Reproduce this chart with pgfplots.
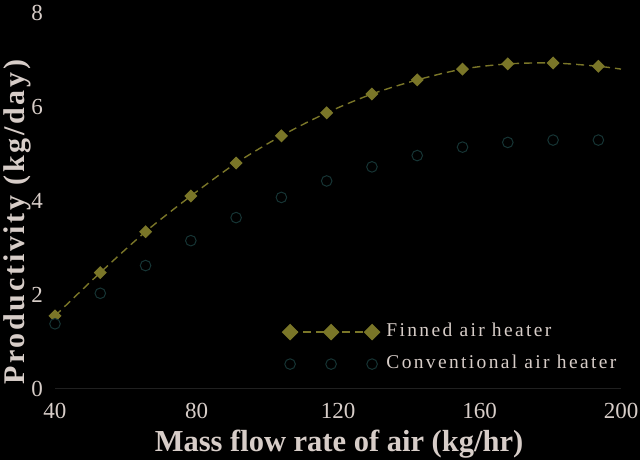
\documentclass[border=0pt]{standalone}
\usepackage{pgfplots}
\pgfplotsset{compat=1.18}
\usepackage{fontspec}
\setmainfont{Liberation Serif}
\newfontfamily\legfont{Liberation Serif}[LetterSpace=12]
\newfontfamily\ylabfont{Liberation Serif}[LetterSpace=9]
\definecolor{olivec}{RGB}{122,118,40}
\definecolor{txtc}{RGB}{215,205,200}
\definecolor{circc}{RGB}{22,52,52}
\definecolor{axc}{RGB}{32,32,32}
\pgfplotsset{
  leg3/.style={legend image code/.code={\draw[mark repeat=1,##1] plot coordinates {(0pt,0pt) (41pt,0pt) (82pt,0pt)};}},
  leg3big/.style={legend image code/.code={\draw[mark repeat=1,##1,mark size=5.2pt] plot coordinates {(0pt,0pt) (41pt,0pt) (82pt,0pt)};}},
}
\begin{document}
\begin{tikzpicture}
\path[use as bounding box, fill=black] (-55pt,-71.3pt) rectangle (585pt,388.7pt);
\clip (-55pt,-71.3pt) rectangle (585pt,388.7pt);
\begin{axis}[
  scale only axis,
  width=566pt, height=376pt,
  xmin=40, xmax=200, ymin=0, ymax=8,
  xtick={40,80,120,160,200},
  ytick={0,2,4,6,8},
  axis lines=left,
  axis line style={-},
  x axis line style={draw=axc, line width=0.8pt},
  y axis line style={draw=none},
  major tick length=0pt,
  tick style={draw=none},
  /pgf/number format/assume math mode=true,
  ticklabel style={font=\fontsize{23}{23}\selectfont, text=txtc, inner sep=0pt},
  xticklabel style={anchor=north, yshift=-14pt},
  yticklabel style={anchor=east, xshift=-12pt},
  xlabel={Mass flow rate of air (kg/hr)},
  xlabel style={font=\fontsize{30.5}{30.5}\selectfont\bfseries, text=txtc, inner sep=0pt,
    at={(axis description cs:0.5018,-0.1676)}, anchor=base},
  ylabel={Productivity (kg/day)},
  ylabel style={font=\fontsize{30}{30}\selectfont\ylabfont\bfseries, text=txtc, inner sep=0pt,
    at={(axis description cs:-0.0417,0.443)}, anchor=south, rotate=0},
  legend style={draw=none, fill=none, text=txtc, font=\fontsize{19.5}{19.5}\selectfont\legfont,
    at={(axis description cs:0.402,0.108)}, anchor=west, inner sep=0pt,
    row sep=13pt,
    nodes={inner sep=0pt, text height=14pt, text depth=5pt},
    /tikz/every odd column/.append style={column sep=7pt}},
  legend cell align=left,
]
\addplot[leg3big, color=olivec, line width=1.4pt, dash pattern=on 8pt off 5pt, smooth,
  mark=square*, mark size=3.9pt, mark options={rotate=45, solid, fill=olivec, draw=olivec},
  mark indices={1,2,3,4,5,6,7,8,9,10,11,12,13}]
coordinates {
(40,1.55) (52.8,2.47) (65.6,3.34) (78.4,4.10) (91.2,4.80) (104,5.38) (116.8,5.87)
(129.6,6.27) (142.4,6.57) (155.2,6.80) (168,6.91) (180.8,6.93) (193.6,6.86) (200,6.80)
};
\addlegendentry{Finned air heater}
\addplot[leg3, only marks, mark=*, mark size=5.3pt, mark options={draw=circc, fill=black, line width=1pt}]
coordinates {
(40,1.38) (52.8,2.03) (65.6,2.62) (78.4,3.15) (91.2,3.64) (104,4.07) (116.8,4.42)
(129.6,4.72) (142.4,4.96) (155.2,5.14) (168,5.24) (180.8,5.29) (193.6,5.29)
};
\addlegendentry{Conventional air heater}
\end{axis}
\end{tikzpicture}
\end{document}
